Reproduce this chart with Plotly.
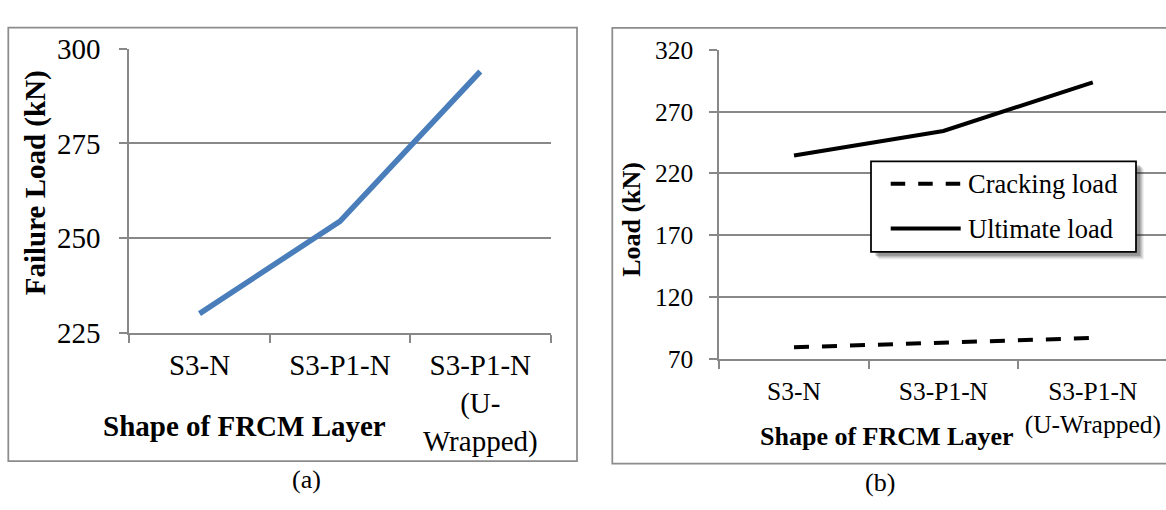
import plotly.graph_objects as go

# ---- data ----
cats_a = ["S3-N", "S3-P1-N", "S3-P1-N<br>(U-<br>Wrapped)"]
failure_load = [230.0, 254.4, 294.0]

cats_b = ["S3-N", "S3-P1-N", "S3-P1-N<br>(U-Wrapped)"]
cracking_load = [79.5, 83.0, 87.0]
ultimate_load = [234.5, 254.3, 293.7]

ticks_a = [225, 250, 275, 300]
ticks_b = [70, 120, 170, 220, 270, 320]

W, H = 1166, 510
FONT = "Liberation Serif, Times New Roman, serif"
GRID = "#888888"
FRAME = "#8c8c8c"


def fx(px):
    return px / W


def fy(py):
    return 1 - py / H


fig = go.Figure()

fig.add_trace(go.Scatter(
    x=cats_a, y=failure_load, mode="lines",
    line=dict(color="#4a7ebb", width=5.5),
    xaxis="x", yaxis="y", showlegend=False, name="Failure load",
))
fig.add_trace(go.Scatter(
    x=cats_b, y=cracking_load, mode="lines",
    line=dict(color="black", width=4, dash="15px,13px"),
    xaxis="x2", yaxis="y2", showlegend=False, name="Cracking load",
))
fig.add_trace(go.Scatter(
    x=cats_b, y=ultimate_load, mode="lines",
    line=dict(color="black", width=4),
    xaxis="x2", yaxis="y2", showlegend=False, name="Ultimate load",
))

common_x = dict(
    type="category", showgrid=False,
    showline=True, linecolor=GRID, linewidth=2,
    ticks="outside", tickson="boundaries", ticklen=8, tickcolor=GRID, tickwidth=2,
    fixedrange=True,
)
common_y = dict(
    showgrid=True, gridcolor=GRID, gridwidth=2,
    showline=True, linecolor=GRID, linewidth=2,
    ticks="outside", ticklen=8, tickcolor=GRID, tickwidth=2,
    zeroline=False, fixedrange=True,
)

fig.update_layout(
    width=W, height=H,
    margin=dict(l=0, r=0, t=0, b=0),
    paper_bgcolor="white", plot_bgcolor="white",
    font=dict(family=FONT, color="black"),
    xaxis=dict(common_x, domain=[fx(129.3), fx(550.5)], anchor="y", range=[-0.5, 2.5],
               tickfont=dict(size=29), ticklabelstandoff=6),
    yaxis=dict(common_y, domain=[fy(337.7), fy(35)], anchor="x",
               range=[225, 300], tickvals=ticks_a, tickfont=dict(size=29),
               ticklabelstandoff=13),
    xaxis2=dict(common_x, domain=[fx(719.3), 1.0], anchor="y2", range=[-0.5, 2.49],
                tickfont=dict(size=25.5), ticklabelstandoff=8),
    yaxis2=dict(common_y, domain=[fy(366), fy(36)], anchor="x2",
                range=[70, 320], tickvals=ticks_b, tickfont=dict(size=25.5),
                ticklabelstandoff=11),
)

shapes = []
# panel frames
shapes.append(dict(type="rect", xref="paper", yref="paper",
                   x0=fx(8.3), x1=fx(577), y0=fy(475), y1=fy(12.3),
                   line=dict(color=FRAME, width=1.75), layer="below"))
shapes.append(dict(type="rect", xref="paper", yref="paper",
                   x0=fx(612.3), x1=fx(1185), y0=fy(477.5), y1=fy(12.7),
                   line=dict(color=FRAME, width=1.75), layer="below"))

# legend box with a soft drop shadow
lx0, lx1, ly0, ly1 = 871, 1136, 155, 251.7
for off, alpha in [(8, 0.06), (7, 0.08), (6, 0.10), (5, 0.12), (4, 0.14)]:
    shapes.append(dict(type="rect", xref="paper", yref="paper",
                       x0=fx(lx0 + off), x1=fx(lx1 + off), y0=fy(ly1 + off), y1=fy(ly0 + off),
                       line=dict(width=0), fillcolor=f"rgba(0,0,0,{alpha})", layer="above"))
shapes.append(dict(type="rect", xref="paper", yref="paper",
                   x0=fx(lx0), x1=fx(lx1), y0=fy(ly1), y1=fy(ly0),
                   line=dict(color="black", width=1.75), fillcolor="white", layer="above"))
shapes.append(dict(type="line", xref="paper", yref="paper",
                   x0=fx(890.7), x1=fx(960.7), y0=fy(179), y1=fy(179),
                   line=dict(color="black", width=4, dash="14.5px,13px"), layer="above"))
shapes.append(dict(type="line", xref="paper", yref="paper",
                   x0=fx(890.7), x1=fx(960.7), y0=fy(226.7), y1=fy(226.7),
                   line=dict(color="black", width=4), layer="above"))
fig.update_layout(shapes=shapes)

annotations = [
    dict(text="Cracking load", x=fx(966), y=fy(179.5), xanchor="left", yanchor="middle",
         font=dict(size=26.5)),
    dict(text="Ultimate load", x=fx(966), y=fy(227.5), xanchor="left", yanchor="middle",
         font=dict(size=26.5)),
    dict(text="<b>Failure Load (kN)</b>", x=fx(35), y=fy(178.5), textangle=-90,
         xanchor="center", yanchor="middle", font=dict(size=29)),
    dict(text="<b>Load (kN)</b>", x=fx(632), y=fy(217.5), textangle=-90,
         xanchor="center", yanchor="middle", font=dict(size=26)),
    dict(text="<b>Shape of FRCM Layer</b>", x=fx(244), y=fy(437.5), xanchor="center",
         yanchor="middle", font=dict(size=29)),
    dict(text="<b>Shape of FRCM Layer</b>", x=fx(886.5), y=fy(448.5), xanchor="center",
         yanchor="middle", font=dict(size=26)),
    dict(text="(a)", x=fx(306), y=fy(494), xanchor="center", yanchor="middle",
         font=dict(size=26)),
    dict(text="(b)", x=fx(880), y=fy(497.5), xanchor="center", yanchor="middle",
         font=dict(size=26)),
]
for a in annotations:
    a.update(xref="paper", yref="paper", showarrow=False)
fig.update_layout(annotations=annotations)

fig.write_html("out.html")
